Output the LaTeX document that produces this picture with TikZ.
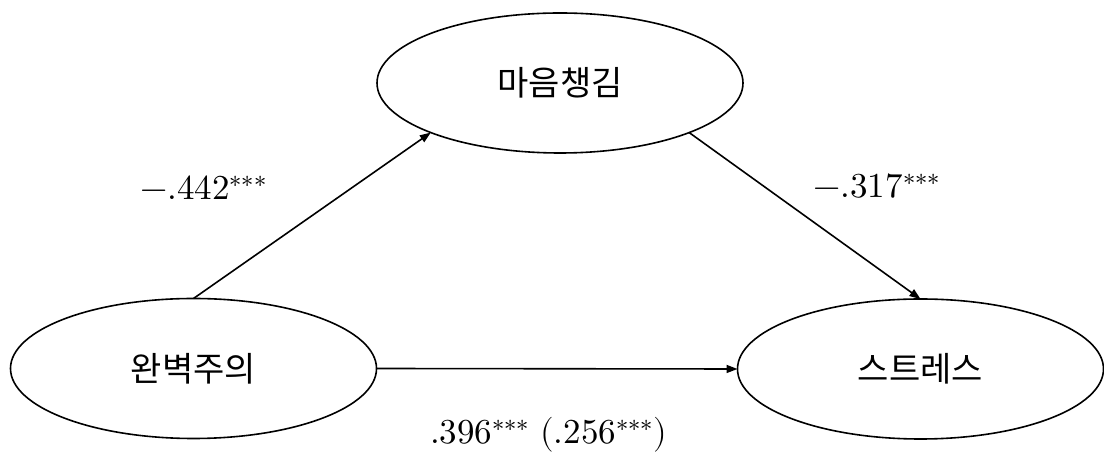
\documentclass[tikz,border=0pt]{standalone}
\usepackage{fontspec}
\usepackage{unicode-math}
\newfontfamily\kr{Noto Sans CJK KR}
\usetikzlibrary{shapes.geometric,arrows.meta}
\begin{document}
\begin{tikzpicture}[x=1pt,y=1pt,
  var/.style={ellipse, draw, line width=1.6pt, minimum width=366pt, minimum height=140pt,
    inner sep=0pt, outer sep=0pt, font=\kr\fontsize{34}{40}\selectfont},
  conn/.style={line width=1.6pt, -{Triangle[length=11pt,width=8pt]}},
  lab/.style={anchor=base west, inner sep=0pt, font=\fontsize{35}{42}\selectfont}]
\useasboundingbox (0,0) rectangle (1104,452);
\node[var] (M) at (560,369) {마음챙김};
\node[var] (X) at (193.5,83.5) {완벽주의};
\node[var] (Y) at (920.5,83) {스트레스};
\draw[conn] (X.north) -- (M.201.5);
\draw[conn] (M.339) -- (Y.north);
\draw[conn] (X.east) -- (Y.west);
\node[lab] (l1) at (140,252) {$-.442^{***}$};
\node[lab] (l2) at (813,254) {$-.317^{***}$};
\node[lab] (l3) at (430,8) {$.396^{***}\ (.256^{***})$};
\end{tikzpicture}
\end{document}
